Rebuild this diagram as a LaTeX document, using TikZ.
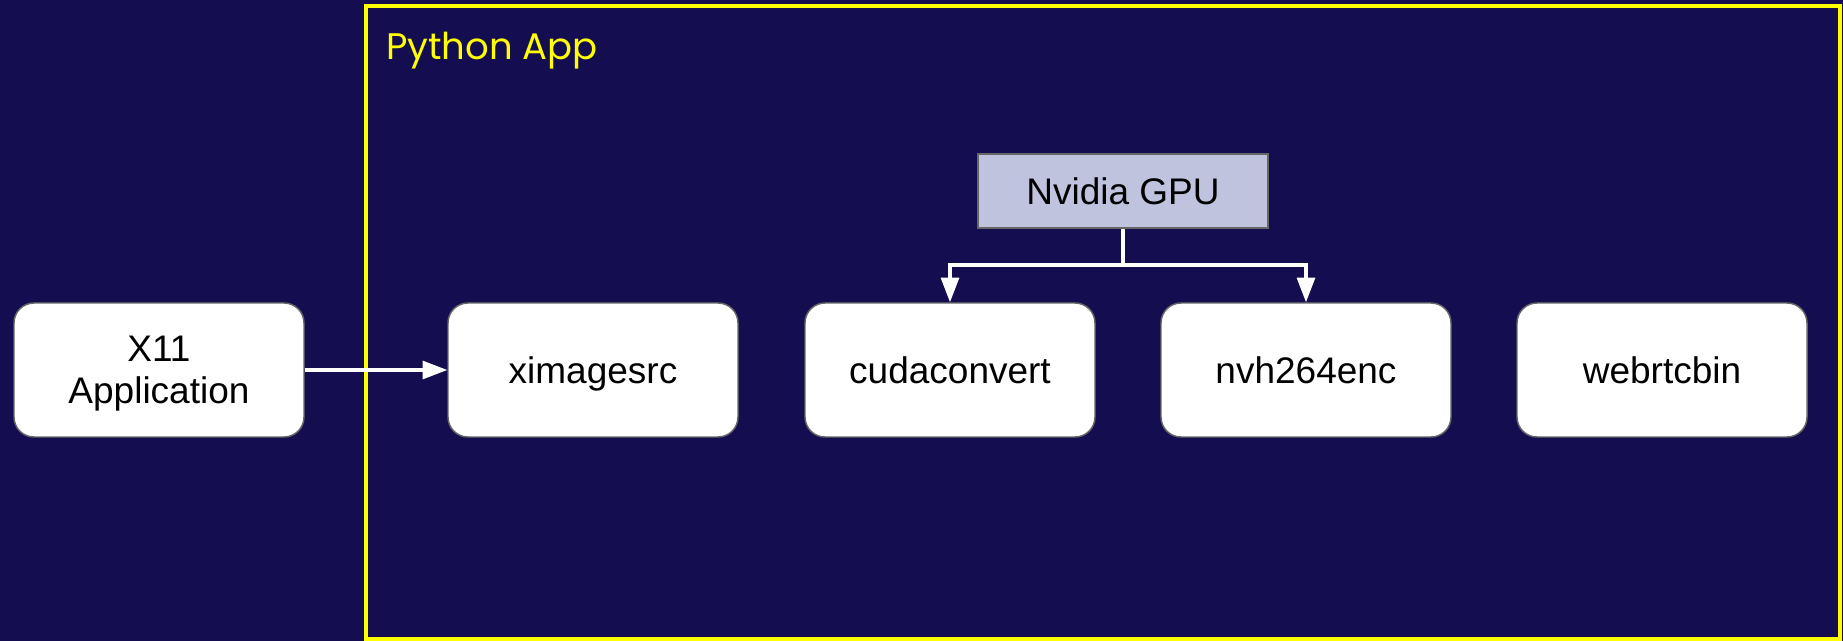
\documentclass[tikz,border=0pt]{standalone}
\usepackage{fontspec}
\setmainfont{Liberation Sans}
\newfontfamily\appfont{Poppins}
\usetikzlibrary{arrows.meta,positioning}

\definecolor{navybg}{RGB}{20,14,81}
\definecolor{appyellow}{RGB}{255,255,0}
\definecolor{gpufill}{RGB}{192,195,222}
\definecolor{boxline}{RGB}{102,102,102}

\tikzset{
  stage/.style={draw=boxline, line width=1.1pt, fill=white, rounded corners=15pt,
    minimum width=217.5pt, minimum height=100.5pt, inner sep=0pt, align=center,
    text depth=0pt, font=\fontsize{27.75}{31.5}\selectfont},
  gpubox/.style={draw=boxline, line width=1.3pt, fill=gpufill,
    minimum width=218pt, minimum height=56pt, inner sep=0pt,
    font=\fontsize{27.75}{31.5}\selectfont},
  flow/.style={draw=white, line width=2.3pt,
    -{Triangle[length=18.5pt,width=13.5pt]}}
}

\begin{document}
\begin{tikzpicture}[x=0.75pt,y=0.75pt,yscale=-1,xscale=1]
%set diagram size: 1843 x 641
\useasboundingbox (0,0) rectangle (1843,641);
\fill [navybg] (0,0) rectangle (1843,641);

%Shape: Rectangle (Python App frame)
\draw [appyellow, line width=3pt] (365.5,6) rectangle (1840,639);
% Text Node
\node (applabel) [anchor=base west, inner sep=0pt, text=appyellow,
  font=\appfont\fontsize{27.75}{31.5}\selectfont] at (386,60) {Python App};

%Shape: Rounded Rectangles
\node (x11) [stage] at (159,370) {X11\\Application};
\node (ximg) [stage] at (593,370) {ximagesrc};
\node (cuda) [stage] at (950,370) {cudaconvert};
\node (nvenc) [stage] at (1306,370) {nvh264enc};
\node (webrtc) [stage] at (1662,370) {webrtcbin};

%Shape: Rectangle (GPU)
\node (gpu) [gpubox] at (1123,191) {Nvidia GPU};

%Connectors
\coordinate (bus) at (1123,265);
\draw [flow] (x11) -- (ximg);
\draw [flow] (gpu.south) -- (bus) -| (cuda.north);
\draw [flow] (bus) -| (nvenc.north);

\end{tikzpicture}
\end{document}
